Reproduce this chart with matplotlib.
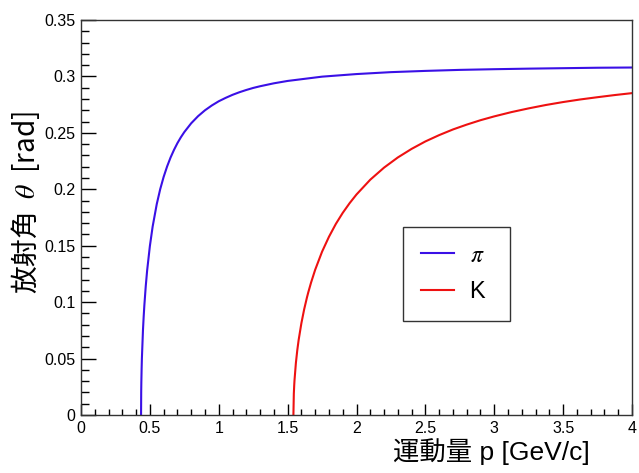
import matplotlib
matplotlib.use("Agg")
import matplotlib.pyplot as plt
from matplotlib.ticker import MultipleLocator

# momentum p [GeV/c] and emission angle theta [rad]
p_pi = [0.436, 0.437, 0.438, 0.44, 0.442, 0.45, 0.455, 0.46, 0.47, 0.48, 0.5,
        0.52, 0.55, 0.575, 0.6, 0.625, 0.65, 0.675, 0.7, 0.725, 0.75, 0.8,
        0.85, 0.9, 0.95, 1.0, 1.05, 1.1, 1.15, 1.2, 1.25, 1.3, 1.4, 1.5, 1.75,
        2.0, 2.25, 2.5, 2.75, 3.0, 3.25, 3.5, 3.75, 4.0]
theta_pi = [0.0, 0.0205, 0.0288, 0.0407, 0.0500, 0.0755, 0.0872, 0.0973,
            0.1141, 0.1279, 0.1497, 0.1669, 0.1869, 0.2001, 0.2110, 0.2202,
            0.2281, 0.2349, 0.2409, 0.2461, 0.2507, 0.2585, 0.2648, 0.2700,
            0.2743, 0.2780, 0.2810, 0.2837, 0.2860, 0.2880, 0.2898, 0.2913,
            0.2939, 0.2960, 0.2998, 0.3021, 0.3038, 0.3049, 0.3058, 0.3064,
            0.3069, 0.3073, 0.3077, 0.3079]

p_k = [1.542, 1.545, 1.548, 1.55, 1.56, 1.57, 1.58, 1.6, 1.62, 1.64, 1.65,
       1.67, 1.7, 1.75, 1.8, 1.85, 1.9, 1.95, 2.0, 2.1, 2.2, 2.3, 2.4, 2.5,
       2.6, 2.7, 2.8, 2.9, 3.0, 3.125, 3.25, 3.375, 3.5, 3.625, 3.75, 3.875,
       4.0]
theta_k = [0.0, 0.0188, 0.0267, 0.0308, 0.0461, 0.0573, 0.0665, 0.0814, 0.0936,
           0.1040, 0.1087, 0.1173, 0.1287, 0.1447, 0.1579, 0.1693, 0.1791,
           0.1877, 0.1954, 0.2085, 0.2192, 0.2282, 0.2358, 0.2424, 0.2480,
           0.2530, 0.2573, 0.2612, 0.2646, 0.2684, 0.2717, 0.2747, 0.2773,
           0.2796, 0.2816, 0.2835, 0.2852]

labels = [r"$\pi$", "K"]
colors = ["#3a10e6", "#ee1111"]

plt.rcParams["mathtext.fontset"] = "stix"
sans = ["Liberation Sans", "Noto Sans CJK JP", "DejaVu Sans"]

fig = plt.figure(figsize=(6.39, 4.73), dpi=100)
ax = fig.add_axes([81 / 639, 1 - 415 / 473, 551 / 639, 395 / 473])

l1, = ax.plot(p_pi, theta_pi, color=colors[0], lw=1.5)
l2, = ax.plot(p_k, theta_k, color=colors[1], lw=1.5)

ax.set_xlim(0, 4)
ax.set_ylim(0, 0.35)
ax.xaxis.set_minor_locator(MultipleLocator(0.1))
ax.yaxis.set_minor_locator(MultipleLocator(0.01))
ax.set_xticks([0, 0.5, 1, 1.5, 2, 2.5, 3, 3.5, 4])
ax.set_xticklabels(["0", "0.5", "1", "1.5", "2", "2.5", "3", "3.5", "4"])
ax.set_yticks([0, 0.05, 0.1, 0.15, 0.2, 0.25, 0.3, 0.35])
ax.set_yticklabels(["0", "0.05", "0.1", "0.15", "0.2", "0.25", "0.3", "0.35"])

ax.tick_params(axis="y", which="major", direction="in", length=11, width=1,
               labelsize=11.5, pad=4)
ax.tick_params(axis="y", which="minor", direction="in", length=5.5, width=1)
ax.tick_params(axis="x", which="major", direction="in", length=8, width=1,
               labelsize=11.5, pad=4)
ax.tick_params(axis="x", which="minor", direction="in", length=4.5, width=1)
for lab in ax.get_xticklabels() + ax.get_yticklabels():
    lab.set_family(sans)

for s in ax.spines.values():
    s.set_linewidth(1)
    s.set_color("#333333")

fig.text(590 / 639, 1 - 452 / 473, "運動量 p [GeV/c]", ha="right", va="center",
         fontsize=19, family=sans)
fig.text(26 / 639, 1 - 202 / 473, r"放射角  $\theta$  [rad]", ha="center",
         va="center", rotation=90, fontsize=20, family=["Noto Sans CJK JP"])

# legend, with a slightly wider box on the right like the original
leg = ax.legend([l1, l2], [s + " " for s in labels], loc="upper left",
                bbox_to_anchor=(403 / 639, 1 - 227 / 473),
                bbox_transform=fig.transFigure, frameon=True, fancybox=False,
                prop={"family": sans, "size": 17}, handlelength=1.4,
                handletextpad=0.7, borderpad=0.75, labelspacing=0.6,
                borderaxespad=0)
leg.get_frame().set_edgecolor("black")
leg.get_frame().set_linewidth(1)

fig.savefig("out.png", dpi=100)
